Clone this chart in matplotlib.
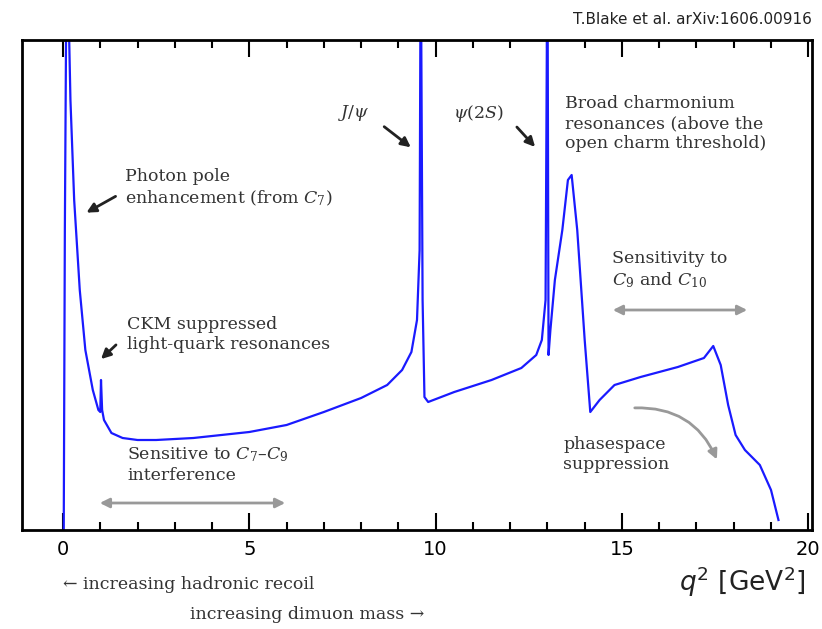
import numpy as np
import matplotlib.pyplot as plt
from matplotlib.patches import FancyArrowPatch

# differential rate (arbitrary units)
q2 = [0.02, 0.05, 0.1, 0.15, 0.2, 0.3, 0.45, 0.6, 0.8, 0.95, 1.0, 1.02, 1.05, 1.1, 1.3, 1.6, 2.0, 2.5, 3.5,
      5.0, 6.0, 7.0, 8.0, 8.7, 9.1, 9.35, 9.5, 9.57, 9.6, 9.65, 9.7, 9.8, 10.5, 11.5, 12.3, 12.7, 12.85, 12.95,
      13.0, 13.03, 13.08, 13.2, 13.4, 13.55, 13.65, 13.8, 14.0, 14.15, 14.4, 14.8, 15.5, 16.5, 17.2, 17.45,
      17.65, 17.85, 18.05, 18.3, 18.7, 19.0, 19.2]
rate = [0, 300, 600, 520, 430, 330, 240, 180, 140, 120, 118, 150, 120, 110, 97, 92, 90, 90, 92,
        98, 105, 118, 132, 145, 160, 178, 210, 280, 600, 230, 133, 128, 138, 150, 162, 175, 190, 230,
        600, 175, 200, 250, 300, 350, 355, 300, 190, 118, 130, 145, 153, 163, 172, 184,
        165, 125, 95, 80, 65, 40, 10]

W, H = 822, 629
fig = plt.figure(figsize=(W / 100, H / 100), dpi=100)
ax = fig.add_axes([22 / W, (H - 530) / H, 790 / W, 490 / H])
ax.plot(q2, rate, color='#1a1aff', lw=1.6)
ax.set_xlim(-1.1, 20.1)
ax.set_ylim(0, 490)
ax.set_yticks([])
ax.set_xticks([0, 5, 10, 15, 20])
ax.set_xticks(np.arange(0, 20), minor=True)
ax.tick_params(axis='x', which='both', direction='in', top=True, width=1.5, labelsize=14, pad=7)
ax.tick_params(axis='x', which='major', length=12)
ax.tick_params(axis='x', which='minor', length=6)
for s in ax.spines.values():
    s.set_linewidth(2)

serif = dict(family='DejaVu Serif', fontsize=12.5, color='#333333', va='top', linespacing=1.25)
plt.rcParams['mathtext.fontset'] = 'dejavuserif'


def px(x, y):
    return x / W, 1 - y / H


def label(x, y, s, **kw):
    d = dict(serif)
    d.update(kw)
    fig.text(*px(x, y), s, **d)


def arrow(p0, p1, color='#222222', style='-|>', rad=0.0, lw=2):
    a = FancyArrowPatch(px(*p0), px(*p1), transform=fig.transFigure, arrowstyle=style,
                        mutation_scale=14, color=color, lw=lw, connectionstyle=f'arc3,rad={rad}')
    fig.patches.append(a)


label(125, 168, 'Photon pole\nenhancement (from $C_7$)')
arrow((118, 195), (84, 214))
label(127, 316, 'CKM suppressed\nlight-quark resonances')
arrow((118, 343), (99, 361))
label(127, 445, 'Sensitive to $C_7$–$C_9$\ninterference')
arrow((97, 503), (288, 503), color='#999999', style='<|-|>')
label(338, 103, r'$J/\psi$')
arrow((382, 125), (413, 149))
label(453, 103, r'$\psi(2S)$')
arrow((515, 125), (537, 149))
label(565, 95, 'Broad charmonium\nresonances (above the\nopen charm threshold)')
label(612, 250, 'Sensitivity to\n$C_9$ and $C_{10}$')
arrow((610, 310), (750, 310), color='#999999', style='<|-|>')
label(563, 436, 'phasespace\nsuppression')
arrow((632, 408), (718, 462), color='#999999', rad=-0.35)

fig.text(*px(812, 20), 'T.Blake et al. arXiv:1606.00916', ha='right', va='center', fontsize=11,
         family='DejaVu Sans', color='#222222')
label(63, 576, '← increasing hadronic recoil', fontsize=12.5)
label(190, 606, 'increasing dimuon mass →', fontsize=12.5)
fig.text(*px(806, 582), '$q^2$ [GeV$^2$]', ha='right', va='center', fontsize=19, family='DejaVu Sans',
         math_fontfamily='dejavusans', color='#222222')

fig.savefig('out.png', dpi=100)
